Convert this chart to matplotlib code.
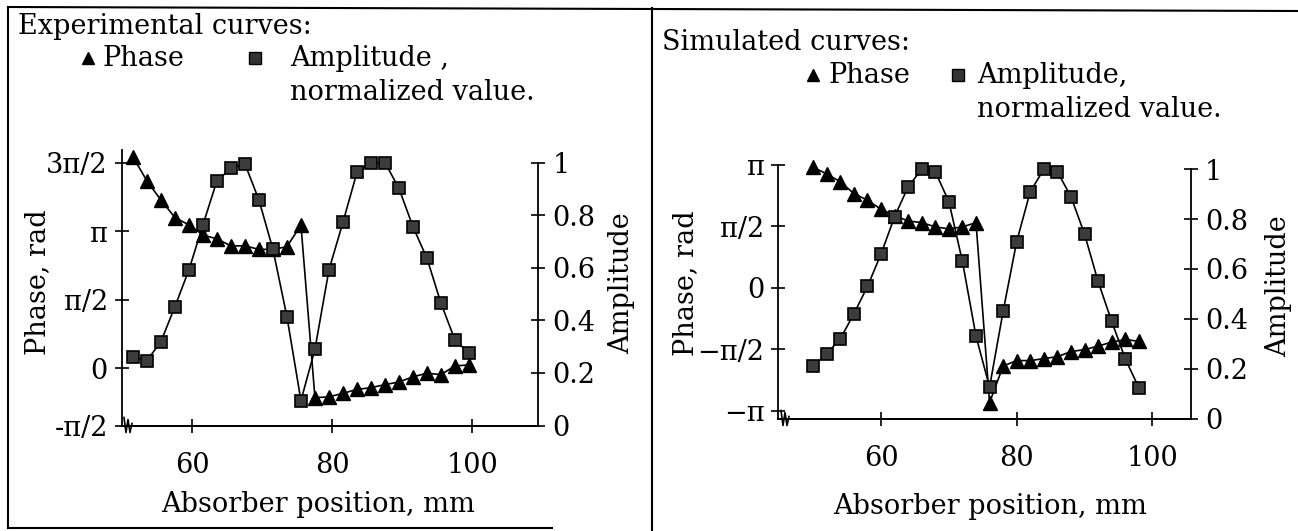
import numpy as np
import matplotlib
matplotlib.use("Agg")
import matplotlib.pyplot as plt
from matplotlib.lines import Line2D

plt.rcParams['font.family'] = ['DejaVu Serif']
FS = 19.5

# experimental curves (mm, rad, normalized)
exp_x = [51.5, 53.5, 55.5, 57.5, 59.5, 61.5, 63.5, 65.5, 67.5, 69.5, 71.5, 73.5, 75.5,
         77.5, 79.5, 81.5, 83.5, 85.5, 87.5, 89.5, 91.5, 93.5, 95.5, 97.5, 99.5]
exp_phase = [4.85, 4.30, 3.86, 3.46, 3.29, 3.06, 2.97, 2.81, 2.81, 2.73, 2.73, 2.79, 3.29,
             -0.67, -0.65, -0.57, -0.48, -0.44, -0.37, -0.31, -0.19, -0.11, -0.14, 0.06, 0.08]
exp_amp = [0.262, 0.247, 0.319, 0.452, 0.592, 0.763, 0.931, 0.978, 0.995, 0.858, 0.670, 0.414, 0.095,
           0.290, 0.592, 0.773, 0.963, 1.0, 1.0, 0.902, 0.756, 0.636, 0.465, 0.325, 0.275]

# simulated curves
sim_x = [50, 52, 54, 56, 58, 60, 62, 64, 66, 68, 70, 72, 74,
         76, 78, 80, 82, 84, 86, 88, 90, 92, 94, 96, 98]
sim_phase = [3.07, 2.90, 2.70, 2.40, 2.23, 2.00, 1.84, 1.70, 1.66, 1.55, 1.50, 1.55, 1.66,
             -2.93, -2.00, -1.86, -1.86, -1.81, -1.76, -1.63, -1.58, -1.49, -1.39, -1.32, -1.37]
sim_amp = [0.21, 0.26, 0.32, 0.42, 0.53, 0.66, 0.81, 0.93, 1.00, 0.99, 0.87, 0.63, 0.33,
           0.126, 0.43, 0.71, 0.91, 1.00, 0.99, 0.89, 0.74, 0.55, 0.39, 0.24, 0.124]

x_ticks = [60, 80, 100]
amp_ticks = [0, 0.2, 0.4, 0.6, 0.8, 1]
amp_labels = ['0', '0.2', '0.4', '0.6', '0.8', '1']

W, H = 1298, 531
fig = plt.figure(figsize=(W / 100, H / 100), dpi=100)


def fx(x):
    return x / W


def fy(y):
    return 1 - y / H


def rect(x0, y0, x1, y1):
    return [fx(x0), fy(y1), fx(x1) - fx(x0), fy(y0) - fy(y1)]


def panel(r, xs, ph, am, xlim, plim, alim, pticks, plabels):
    ax = fig.add_axes(r)
    ax2 = ax.twinx()
    ax.set_xlim(*xlim)
    ax.set_ylim(*plim)
    ax2.set_ylim(*alim)
    for a in (ax, ax2):
        a.spines['top'].set_visible(False)
        for s in a.spines.values():
            s.set_linewidth(1.3)
        a.tick_params(direction='inout', length=10, width=1.2, labelsize=FS, pad=5)
        a.set_facecolor('none')
    ax.spines['right'].set_visible(False)
    ax2.spines['left'].set_visible(False)
    ax2.spines['right'].set_bounds(0, 1)
    ax.set_xticks(x_ticks)
    ax.set_xticklabels([str(t) for t in x_ticks])
    ax.tick_params(axis='x', pad=14)
    ax.set_yticks(pticks)
    ax.set_yticklabels(plabels)
    ax2.set_yticks(amp_ticks)
    ax2.set_yticklabels(amp_labels)
    ax.plot(xs, ph, color='black', lw=1.2, marker='^', ms=9.5, mfc='black', mec='black', clip_on=False, zorder=3)
    ax2.plot(xs, am, color='black', lw=1.2, marker='s', ms=9, mfc='#3c3c3c', mec='black', mew=1.2, clip_on=False, zorder=3)
    return ax, ax2


# left panel
panel(rect(121.7, 150, 538.3, 425.5), exp_x, exp_phase, exp_amp,
      (49.9, 109.4), (-1.307, 5.007), (0, 1.048),
      [-1.307, 0, np.pi / 2, np.pi, 3 * np.pi / 2], ['-π/2', '0', 'π/2', 'π', '3π/2'])

# right panel
panel(rect(778.3, 164.5, 1191, 418.5), sim_x, sim_phase, sim_amp,
      (44.85, 105.7), (-3.337, np.pi), (0, 1.019),
      [-np.pi, -np.pi / 2, 0, np.pi / 2, np.pi], ['−π', '−π/2', '0', 'π/2', 'π'])

# axis break marks
for bx, by in [(124, 425.5), (781, 418.5)]:
    zx = [bx, bx + 2, bx + 4, bx + 6, bx + 8]
    zy = [by - 8, by + 7, by - 6, by + 7, by - 2]
    fig.add_artist(Line2D([fx(v) for v in zx], [fy(v) for v in zy], color='black', lw=1.2,
                          transform=fig.transFigure))

# labels
fig.text(fx(38), fy(282), 'Phase, rad', rotation=90, ha='center', va='center', fontsize=FS)
fig.text(fx(622), fy(283), 'Amplitude', rotation=90, ha='center', va='center', fontsize=FS)
fig.text(fx(318), fy(505), 'Absorber position, mm', ha='center', va='center', fontsize=FS)
fig.text(fx(686), fy(283), 'Phase, rad', rotation=90, ha='center', va='center', fontsize=FS)
fig.text(fx(1279), fy(286), 'Amplitude', rotation=90, ha='center', va='center', fontsize=FS)
fig.text(fx(990), fy(507), 'Absorber position, mm', ha='center', va='center', fontsize=FS)

# legends
fig.text(fx(18), fy(26), 'Experimental curves:', ha='left', va='center', fontsize=FS)
fig.text(fx(103), fy(59), 'Phase', ha='left', va='center', fontsize=FS)
fig.text(fx(290), fy(59), 'Amplitude ,', ha='left', va='center', fontsize=FS)
fig.text(fx(290), fy(93), 'normalized value.', ha='left', va='center', fontsize=FS)
fig.text(fx(662), fy(42), 'Simulated curves:', ha='left', va='center', fontsize=FS)
fig.text(fx(828), fy(76), 'Phase', ha='left', va='center', fontsize=FS)
fig.text(fx(977), fy(76), 'Amplitude,', ha='left', va='center', fontsize=FS)
fig.text(fx(977), fy(110), 'normalized value.', ha='left', va='center', fontsize=FS)
for mx, my, m in [(88, 58, '^'), (255, 58, 's'), (813, 75, '^'), (958, 75, 's')]:
    fig.add_artist(Line2D([fx(mx)], [fy(my)], marker=m, ms=8, mfc='#333333' if m == 's' else 'black',
                          mec='black', ls='none', transform=fig.transFigure))

# frame lines
frame = [([8, 1298], [7, 11]), ([8, 8], [7, 528]), ([8, 552], [528, 528]), ([652, 652], [8, 531])]
for lx, ly in frame:
    fig.add_artist(Line2D([fx(v) for v in lx], [fy(v) for v in ly], color='black', lw=1.5,
                          transform=fig.transFigure))

fig.savefig('out.png', dpi=100)
